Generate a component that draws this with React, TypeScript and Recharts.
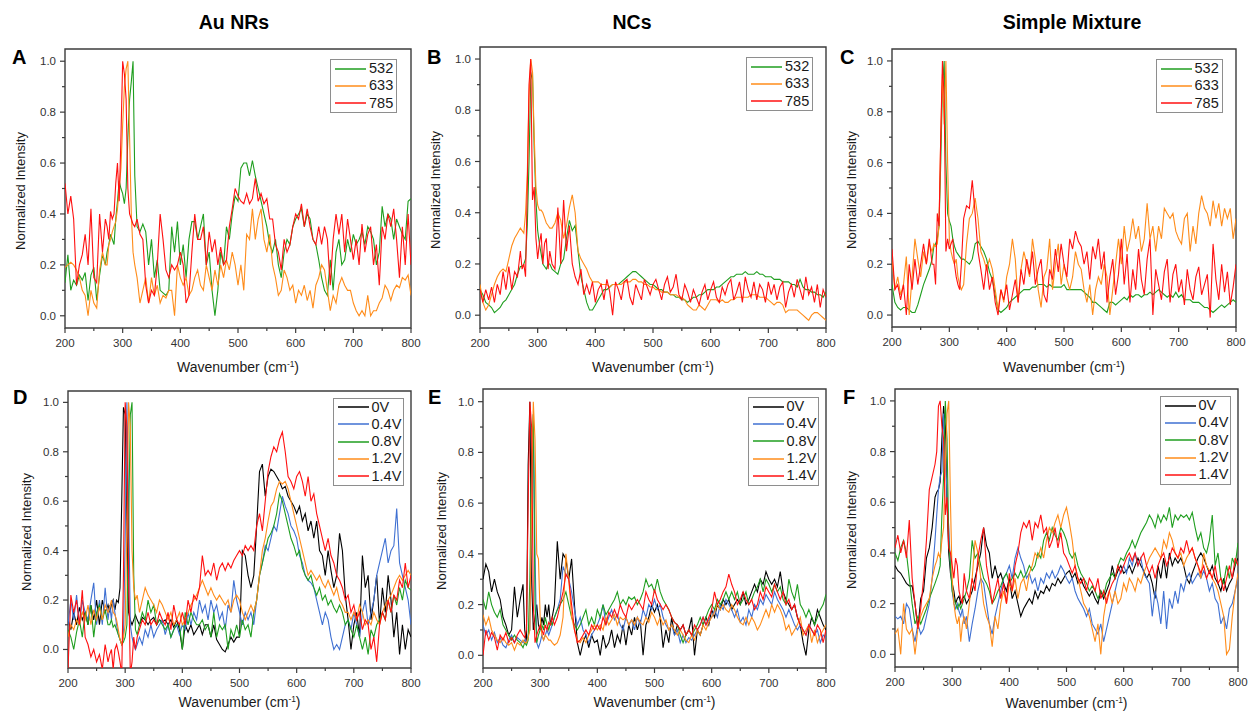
import React from "react";
import { Line, LineChart, ReferenceArea, XAxis, YAxis } from "recharts";

const FONT = "Arial, 'Liberation Sans', Helvetica, sans-serif";

// sampling grid (cm-1): 5 cm-1 steps, 3 cm-1 around the sharp band near 290
const wavenumber = [
  200, 205, 210, 215, 220, 225, 230, 235, 240, 245, 250, 255, 260, 265, 270,
  273, 276, 279, 282, 285, 288, 291, 294, 297, 300, 303, 306, 309, 312, 315, 318, 321,
  325, 330, 335, 340, 345, 350, 355, 360, 365, 370, 375, 380,
  385, 390, 395, 400, 405, 410, 415, 420, 425, 430, 435, 440,
  445, 450, 455, 460, 465, 470, 475, 480, 485, 490, 495, 500,
  505, 510, 515, 520, 525, 530, 535, 540, 545, 550, 555, 560,
  565, 570, 575, 580, 585, 590, 595, 600, 605, 610, 615, 620,
  625, 630, 635, 640, 645, 650, 655, 660, 665, 670, 675, 680,
  685, 690, 695, 700, 705, 710, 715, 720, 725, 730, 735, 740,
  745, 750, 755, 760, 765, 770, 775, 780, 785, 790, 795, 800,
];

const xTicks = [200, 250, 300, 350, 400, 450, 500, 550, 600, 650, 700, 750, 800];
const yTicks = [0, 0.1, 0.2, 0.3, 0.4, 0.5, 0.6, 0.7, 0.8, 0.9, 1.0];
const laserNames = ["532", "633", "785"];
const voltageNames = ["0V", "0.4V", "0.8V", "1.2V", "1.4V"];

// ---- A: Au NRs, three lasers
const a532 = [
  0.13, 0.24, 0.10, 0.14, 0.12, 0.16, 0.14, 0.17, 0.06, 0.16, 0.19, 0.06, 0.16, 0.24, 0.20,
  0.25, 0.28, 0.32, 0.30, 0.28, 0.38, 0.45, 0.53, 0.50, 0.48, 0.44, 0.50, 0.70, 0.85, 0.92, 1.00, 0.55,
  0.35, 0.33, 0.36, 0.33, 0.20, 0.30, 0.15, 0.22, 0.10, 0.09, 0.08, 0.10,
  0.35, 0.25, 0.37, 0.20, 0.28, 0.15, 0.30, 0.37, 0.37, 0.30, 0.35, 0.40,
  0.20, 0.25, 0.10, 0.00, 0.10, 0.25, 0.20, 0.35, 0.30, 0.40, 0.47, 0.45,
  0.58, 0.60, 0.60, 0.55, 0.61, 0.55, 0.50, 0.45, 0.40, 0.35, 0.28, 0.25,
  0.30, 0.20, 0.15, 0.25, 0.30, 0.28, 0.35, 0.38, 0.40, 0.42, 0.35, 0.40,
  0.38, 0.30, 0.28, 0.22, 0.15, 0.10, 0.08, 0.22, 0.10, 0.25, 0.30, 0.20,
  0.22, 0.30, 0.25, 0.32, 0.28, 0.30, 0.33, 0.28, 0.35, 0.33, 0.30, 0.20,
  0.25, 0.43, 0.35, 0.40, 0.38, 0.30, 0.38, 0.35, 0.32, 0.30, 0.45, 0.46,
];
const a633 = [
  0.19, 0.20, 0.21, 0.20, 0.18, 0.15, 0.10, 0.08, 0.00, 0.10, 0.05, 0.03, 0.18, 0.25, 0.20,
  0.20, 0.28, 0.30, 0.33, 0.35, 0.37, 0.42, 0.50, 0.58, 0.75, 0.90, 0.97, 1.00, 0.70, 0.40, 0.25, 0.20,
  0.15, 0.05, 0.10, 0.15, 0.05, 0.15, 0.08, 0.12, 0.05, 0.08, 0.07, 0.10,
  0.10, 0.00, 0.20, 0.15, 0.12, 0.15, 0.08, 0.10, 0.15, 0.18, 0.12, 0.10,
  0.20, 0.15, 0.10, 0.18, 0.12, 0.20, 0.15, 0.22, 0.18, 0.25, 0.20, 0.12,
  0.20, 0.10, 0.32, 0.30, 0.42, 0.30, 0.38, 0.42, 0.30, 0.25, 0.32, 0.20,
  0.15, 0.08, 0.10, 0.18, 0.15, 0.10, 0.12, 0.05, 0.10, 0.08, 0.12, 0.06,
  0.10, 0.03, 0.12, 0.15, 0.20, 0.18, 0.10, 0.02, 0.08, 0.05, 0.12, 0.15,
  0.12, 0.10, 0.10, 0.05, 0.02, 0.00, 0.02, 0.00, 0.08, 0.00, 0.02, 0.02,
  0.05, 0.07, 0.12, 0.10, 0.06, 0.10, 0.12, 0.11, 0.15, 0.14, 0.16, 0.08,
];
const a785 = [
  0.52, 0.40, 0.47, 0.38, 0.12, 0.20, 0.24, 0.32, 0.20, 0.42, 0.15, 0.13, 0.40, 0.25, 0.38,
  0.35, 0.30, 0.41, 0.38, 0.40, 0.52, 0.60, 0.45, 0.70, 1.00, 0.95, 0.85, 0.50, 0.40, 0.38, 0.36, 0.35,
  0.38, 0.32, 0.30, 0.12, 0.05, 0.10, 0.08, 0.20, 0.40, 0.30, 0.18, 0.15,
  0.20, 0.18, 0.20, 0.25, 0.20, 0.05, 0.08, 0.25, 0.40, 0.30, 0.30, 0.35,
  0.20, 0.33, 0.25, 0.30, 0.20, 0.27, 0.20, 0.22, 0.35, 0.42, 0.50, 0.47,
  0.45, 0.44, 0.48, 0.44, 0.46, 0.54, 0.45, 0.48, 0.44, 0.46, 0.38, 0.38,
  0.28, 0.25, 0.18, 0.30, 0.25, 0.28, 0.35, 0.40, 0.38, 0.44, 0.35, 0.42,
  0.35, 0.30, 0.28, 0.35, 0.28, 0.35, 0.30, 0.12, 0.30, 0.40, 0.32, 0.40,
  0.25, 0.38, 0.30, 0.22, 0.30, 0.20, 0.36, 0.25, 0.32, 0.35, 0.20, 0.28,
  0.12, 0.35, 0.30, 0.40, 0.35, 0.42, 0.30, 0.15, 0.35, 0.20, 0.40, 0.20,
];

// ---- B: NCs, three lasers
const b532 = [
  0.10, 0.08, 0.05, 0.04, 0.03, 0.01, 0.02, 0.03, 0.05, 0.06, 0.08, 0.10, 0.12, 0.16, 0.19,
  0.19, 0.20, 0.22, 0.35, 0.60, 0.92, 0.95, 0.65, 0.45, 0.33, 0.28, 0.24, 0.20, 0.19, 0.18, 0.20, 0.20,
  0.18, 0.17, 0.16, 0.20, 0.22, 0.30, 0.37, 0.33, 0.35, 0.25, 0.15, 0.10,
  0.05, 0.02, 0.02, 0.04, 0.06, 0.08, 0.10, 0.10, 0.11, 0.12, 0.12, 0.12,
  0.13, 0.14, 0.15, 0.16, 0.17, 0.17, 0.16, 0.15, 0.14, 0.13, 0.12, 0.12,
  0.11, 0.10, 0.10, 0.09, 0.09, 0.08, 0.08, 0.07, 0.07, 0.06, 0.06, 0.05,
  0.06, 0.07, 0.07, 0.08, 0.08, 0.09, 0.10, 0.10, 0.10, 0.11, 0.11, 0.12,
  0.13, 0.14, 0.15, 0.15, 0.16, 0.16, 0.16, 0.17, 0.16, 0.16, 0.16, 0.17,
  0.16, 0.16, 0.15, 0.15, 0.15, 0.14, 0.14, 0.14, 0.13, 0.13, 0.13, 0.12,
  0.12, 0.11, 0.14, 0.11, 0.10, 0.10, 0.09, 0.09, 0.08, 0.08, 0.07, 0.09,
];
const b633 = [
  0.12, 0.05, 0.02, 0.04, 0.08, 0.12, 0.15, 0.17, 0.18, 0.17, 0.22, 0.27, 0.30, 0.32, 0.34,
  0.33, 0.32, 0.40, 0.55, 0.85, 1.00, 0.95, 0.70, 0.50, 0.43, 0.41, 0.41, 0.40, 0.38, 0.36, 0.35, 0.34,
  0.34, 0.36, 0.40, 0.37, 0.30, 0.35, 0.42, 0.47, 0.40, 0.25, 0.22, 0.20,
  0.18, 0.15, 0.13, 0.13, 0.13, 0.12, 0.12, 0.12, 0.11, 0.12, 0.12, 0.12,
  0.12, 0.13, 0.13, 0.13, 0.14, 0.14, 0.13, 0.13, 0.12, 0.12, 0.11, 0.11,
  0.10, 0.10, 0.09, 0.09, 0.09, 0.08, 0.08, 0.08, 0.07, 0.07, 0.06, 0.04,
  0.03, 0.02, 0.02, 0.04, 0.03, 0.02, 0.04, 0.06, 0.06, 0.06, 0.05, 0.06,
  0.05, 0.05, 0.06, 0.06, 0.07, 0.07, 0.07, 0.07, 0.07, 0.08, 0.08, 0.08,
  0.07, 0.07, 0.07, 0.06, 0.05, 0.04, 0.05, 0.05, 0.04, 0.01, 0.02, 0.02,
  0.02, 0.02, 0.01, 0.00, -0.01, -0.02, 0.00, 0.01, 0.01, 0.00, -0.01, -0.02,
];
const b785 = [
  0.10, 0.05, 0.10, 0.06, 0.11, 0.05, 0.12, 0.08, 0.17, 0.10, 0.19, 0.10, 0.17, 0.15, 0.25,
  0.18, 0.20, 0.15, 0.50, 0.90, 1.00, 0.45, 0.50, 0.30, 0.22, 0.28, 0.32, 0.20, 0.28, 0.30, 0.18, 0.25,
  0.20, 0.18, 0.42, 0.20, 0.45, 0.25, 0.35, 0.20, 0.15, 0.12, 0.18, 0.08,
  0.12, 0.08, 0.13, 0.05, 0.10, 0.12, 0.06, 0.14, 0.09, 0.00, 0.13, 0.10,
  0.06, 0.13, 0.14, 0.07, 0.04, 0.12, 0.09, 0.06, 0.14, 0.11, 0.08, 0.12,
  0.14, 0.10, 0.06, 0.12, 0.15, 0.09, 0.11, 0.16, 0.08, 0.06, 0.12, 0.09,
  0.05, 0.10, 0.07, 0.04, 0.09, 0.12, 0.06, 0.10, 0.13, 0.07, 0.05, 0.11,
  0.08, 0.12, 0.14, 0.06, 0.09, 0.13, 0.05, 0.15, 0.10, 0.07, 0.13, 0.06,
  0.12, 0.10, 0.05, 0.13, 0.08, 0.12, 0.06, 0.11, 0.13, 0.03, 0.09, 0.12,
  0.07, 0.14, 0.10, 0.06, 0.15, 0.08, 0.11, 0.05, 0.12, 0.03, 0.10, 0.07,
];

// ---- C: simple mixture, three lasers
const c532 = [
  0.12, 0.05, 0.03, 0.02, 0.03, 0.03, 0.02, 0.01, 0.01, 0.04, 0.08, 0.12, 0.15, 0.18, 0.22,
  0.27, 0.28, 0.30, 0.35, 0.60, 0.90, 1.00, 0.60, 0.40, 0.37, 0.35, 0.30, 0.27, 0.25, 0.24, 0.23, 0.22,
  0.22, 0.21, 0.20, 0.22, 0.28, 0.29, 0.27, 0.25, 0.22, 0.17, 0.14, 0.08,
  0.02, 0.01, 0.02, 0.03, 0.05, 0.06, 0.07, 0.08, 0.09, 0.10, 0.10, 0.10,
  0.11, 0.11, 0.12, 0.12, 0.12, 0.11, 0.12, 0.11, 0.11, 0.11, 0.11, 0.12,
  0.10, 0.10, 0.10, 0.10, 0.10, 0.10, 0.09, 0.08, 0.07, 0.05, 0.05, 0.04,
  0.03, 0.02, 0.01, 0.05, 0.05, 0.04, 0.05, 0.06, 0.07, 0.06, 0.08, 0.07,
  0.08, 0.08, 0.07, 0.08, 0.08, 0.09, 0.08, 0.09, 0.10, 0.09, 0.08, 0.07,
  0.08, 0.07, 0.09, 0.07, 0.08, 0.06, 0.06, 0.06, 0.05, 0.05, 0.05, 0.04,
  0.03, 0.03, 0.02, 0.01, 0.02, 0.03, 0.04, 0.03, 0.04, 0.05, 0.06, 0.05,
];
const c633 = [
  0.22, 0.10, 0.15, 0.08, 0.12, 0.23, 0.00, 0.15, 0.30, 0.22, 0.15, 0.25, 0.20, 0.28, 0.25,
  0.28, 0.27, 0.28, 0.35, 0.70, 0.95, 0.75, 1.00, 0.60, 0.30, 0.25, 0.22, 0.20, 0.22, 0.15, 0.12, 0.10,
  0.12, 0.28, 0.38, 0.40, 0.46, 0.38, 0.25, 0.22, 0.18, 0.22, 0.18, 0.10,
  0.02, 0.10, 0.05, 0.15, 0.20, 0.30, 0.22, 0.05, 0.18, 0.25, 0.20, 0.15,
  0.30, 0.22, 0.10, 0.03, 0.15, 0.18, 0.30, 0.10, 0.20, 0.28, 0.12, 0.20,
  0.14, 0.10, 0.15, 0.25, 0.20, 0.18, 0.10, 0.05, 0.12, 0.00, 0.10, 0.15,
  0.12, 0.20, 0.15, 0.00, 0.10, 0.20, 0.30, 0.20, 0.35, 0.25, 0.30, 0.38,
  0.30, 0.35, 0.25, 0.30, 0.44, 0.30, 0.35, 0.25, 0.35, 0.30, 0.42, 0.40,
  0.38, 0.40, 0.33, 0.30, 0.28, 0.38, 0.40, 0.25, 0.35, 0.28, 0.40, 0.47,
  0.42, 0.40, 0.35, 0.45, 0.38, 0.44, 0.35, 0.42, 0.38, 0.42, 0.30, 0.38,
];
const c785 = [
  0.26, 0.10, 0.12, 0.06, 0.12, 0.00, 0.20, 0.10, 0.22, 0.12, 0.20, 0.28, 0.20, 0.30, 0.20,
  0.20, 0.12, 0.40, 0.35, 0.70, 1.00, 0.85, 0.25, 0.30, 0.26, 0.28, 0.30, 0.20, 0.15, 0.12, 0.10, 0.20,
  0.38, 0.43, 0.42, 0.53, 0.40, 0.25, 0.18, 0.10, 0.20, 0.10, 0.15, 0.05,
  0.00, 0.10, 0.06, 0.12, 0.02, 0.08, 0.14, 0.05, 0.18, 0.12, 0.22, 0.16,
  0.25, 0.12, 0.18, 0.22, 0.08, 0.05, 0.18, 0.14, 0.26, 0.17, 0.28, 0.20,
  0.15, 0.30, 0.26, 0.33, 0.29, 0.27, 0.20, 0.25, 0.14, 0.27, 0.22, 0.30,
  0.18, 0.25, 0.05, 0.15, 0.22, 0.08, 0.16, 0.30, 0.12, 0.24, 0.05, 0.18,
  0.10, 0.26, 0.14, 0.08, 0.22, 0.30, 0.00, 0.18, 0.12, 0.06, 0.17, 0.22,
  0.05, 0.16, 0.20, 0.09, 0.14, 0.04, 0.18, 0.10, 0.06, 0.15, 0.19, 0.08,
  0.12, 0.16, -0.01, 0.28, 0.14, 0.06, 0.20, 0.09, 0.17, 0.04, 0.11, 0.20,
];

// ---- D: Au NRs under bias
const d0v = [
  0.12, 0.08, 0.15, 0.10, 0.17, 0.12, 0.15, 0.10, 0.18, 0.12, 0.20, 0.10, 0.20, 0.15, 0.18,
  0.15, 0.18, 0.20, 0.16, 0.20, 0.19, 0.25, 0.60, 0.98, 0.95, 0.50, 0.15, 0.12, 0.10, 0.12, 0.14, 0.12,
  0.10, 0.13, 0.12, 0.10, 0.12, 0.13, 0.10, 0.12, 0.11, 0.12, 0.10, 0.12,
  0.09, 0.12, 0.08, 0.00, 0.10, 0.07, 0.10, 0.06, 0.08, 0.10, 0.06, 0.10,
  0.10, 0.05, 0.10, 0.04, 0.02, 0.00, -0.01, 0.02, 0.05, 0.03, 0.05, 0.05,
  0.40, 0.38, 0.30, 0.25, 0.30, 0.50, 0.72, 0.75, 0.62, 0.70, 0.73, 0.72,
  0.70, 0.68, 0.65, 0.66, 0.62, 0.60, 0.58, 0.55, 0.58, 0.52, 0.55, 0.48,
  0.52, 0.45, 0.52, 0.40, 0.38, 0.30, 0.40, 0.32, 0.25, 0.30, 0.47, 0.40,
  0.22, 0.12, 0.00, 0.10, 0.15, 0.05, 0.38, 0.25, 0.30, 0.12, 0.20, 0.30,
  0.10, 0.25, 0.15, 0.30, 0.20, 0.05, 0.15, -0.02, 0.10, 0.00, 0.08, 0.05,
];
const d04v = [
  0.10, 0.20, 0.12, 0.22, 0.10, 0.20, 0.15, 0.12, 0.20, 0.27, 0.10, 0.20, 0.10, 0.25, 0.12,
  0.18, 0.12, 0.20, 0.15, 0.10, 0.06, 0.04, 0.02, 0.05, 0.45, 1.00, 0.60, 0.10, 0.05, 0.02, 0.00, 0.02,
  0.05, 0.02, 0.08, 0.05, 0.10, 0.05, 0.08, 0.10, 0.12, 0.06, 0.10, 0.05,
  0.08, 0.10, 0.06, 0.10, 0.08, 0.15, 0.10, 0.15, 0.12, 0.20, 0.15, 0.18,
  0.12, 0.20, 0.15, 0.18, 0.12, 0.15, 0.08, 0.18, 0.15, 0.28, 0.20, 0.15,
  0.10, 0.15, 0.12, 0.15, 0.10, 0.20, 0.30, 0.35, 0.42, 0.40, 0.45, 0.50,
  0.48, 0.55, 0.62, 0.58, 0.55, 0.50, 0.48, 0.45, 0.38, 0.35, 0.30, 0.28,
  0.27, 0.25, 0.20, 0.15, 0.10, 0.15, 0.12, 0.05, 0.00, 0.02, 0.00, 0.05,
  0.10, 0.12, 0.08, 0.15, 0.10, 0.05, 0.15, 0.20, 0.10, 0.15, 0.20, 0.30,
  0.35, 0.40, 0.45, 0.35, 0.40, 0.42, 0.57, 0.35, 0.30, 0.25, 0.20, 0.10,
];
const d08v = [
  0.08, 0.05, 0.00, 0.07, 0.12, 0.05, 0.15, 0.10, 0.18, 0.05, 0.15, 0.18, 0.12, 0.16, 0.10,
  0.10, 0.12, 0.09, 0.10, 0.08, 0.06, 0.04, 0.02, 0.03, 0.05, 0.10, 0.50, 0.95, 1.00, 0.30, 0.08, 0.06,
  0.10, 0.15, 0.12, 0.20, 0.15, 0.18, 0.10, 0.12, 0.10, 0.08, 0.10, 0.05,
  0.08, 0.10, 0.10, 0.00, 0.15, 0.10, 0.15, 0.12, 0.10, 0.10, 0.12, 0.08,
  0.10, 0.05, 0.15, 0.05, 0.10, 0.08, 0.10, 0.00, 0.08, 0.05, 0.10, 0.05,
  0.12, 0.08, 0.10, 0.05, 0.15, 0.20, 0.30, 0.35, 0.40, 0.45, 0.47, 0.50,
  0.55, 0.63, 0.60, 0.55, 0.50, 0.45, 0.42, 0.38, 0.40, 0.33, 0.30, 0.28,
  0.30, 0.25, 0.22, 0.25, 0.20, 0.22, 0.18, 0.20, 0.17, 0.15, 0.18, 0.15,
  0.10, 0.12, 0.08, 0.05, 0.10, 0.05, 0.00, 0.05, -0.02, 0.08, 0.05, 0.10,
  0.12, 0.15, 0.12, 0.20, 0.15, 0.22, 0.18, 0.25, 0.20, 0.28, 0.25, 0.24,
];
const d12v = [
  0.05, 0.10, 0.08, 0.12, 0.10, 0.15, 0.12, 0.18, 0.10, 0.16, 0.12, 0.17, 0.12, 0.18, 0.15,
  0.17, 0.20, 0.15, 0.14, 0.12, 0.08, 0.04, 0.02, 0.05, 0.10, 0.50, 1.00, 0.90, 0.40, 0.25, 0.20, 0.22,
  0.15, 0.20, 0.25, 0.22, 0.20, 0.18, 0.15, 0.20, 0.18, 0.15, 0.12, 0.15,
  0.10, 0.12, 0.15, 0.10, 0.12, 0.15, 0.18, 0.20, 0.22, 0.25, 0.28, 0.25,
  0.22, 0.25, 0.22, 0.20, 0.22, 0.20, 0.18, 0.20, 0.15, 0.20, 0.22, 0.20,
  0.15, 0.12, 0.15, 0.18, 0.15, 0.20, 0.30, 0.40, 0.45, 0.52, 0.58, 0.60,
  0.65, 0.68, 0.67, 0.68, 0.65, 0.60, 0.55, 0.50, 0.45, 0.40, 0.35, 0.30,
  0.32, 0.30, 0.28, 0.30, 0.27, 0.25, 0.28, 0.25, 0.22, 0.25, 0.20, 0.18,
  0.15, 0.15, 0.12, 0.15, 0.12, 0.18, 0.15, 0.10, 0.12, 0.10, 0.15, 0.12,
  0.10, 0.15, 0.18, 0.20, 0.22, 0.25, 0.28, 0.30, 0.28, 0.30, 0.32, 0.30,
];
const d14v = [
  -0.08, 0.22, 0.15, 0.20, 0.10, 0.24, 0.05, 0.02, -0.03, 0.00, -0.05, -0.02, -0.08, 0.02, -0.05,
  -0.02, 0.00, -0.08, 0.00, 0.02, -0.01, -0.05, -0.10, 0.30, 1.00, 0.90, 0.30, -0.10, -0.05, 0.05, 0.00, 0.05,
  0.08, 0.12, 0.10, 0.15, 0.10, 0.12, 0.10, 0.15, 0.12, 0.10, 0.15, 0.08,
  0.18, 0.12, 0.10, 0.15, 0.10, 0.20, 0.15, 0.22, 0.20, 0.25, 0.38, 0.30,
  0.32, 0.30, 0.35, 0.28, 0.33, 0.35, 0.32, 0.35, 0.33, 0.36, 0.38, 0.40,
  0.38, 0.42, 0.40, 0.42, 0.40, 0.50, 0.55, 0.48, 0.60, 0.72, 0.78, 0.82,
  0.80, 0.85, 0.88, 0.80, 0.70, 0.68, 0.65, 0.70, 0.72, 0.68, 0.62, 0.70,
  0.60, 0.63, 0.55, 0.50, 0.45, 0.40, 0.45, 0.38, 0.35, 0.30, 0.28, 0.25,
  0.20, 0.22, 0.15, 0.18, 0.12, 0.15, 0.08, 0.12, 0.10, 0.00, 0.05, -0.05,
  0.10, 0.15, 0.12, 0.20, 0.15, 0.22, 0.20, 0.28, 0.25, 0.35, 0.25, 0.30,
];

// ---- E: NCs under bias
const e0v = [
  0.30, 0.36, 0.33, 0.25, 0.30, 0.25, 0.22, 0.15, 0.12, 0.08, 0.10, 0.27, 0.15, 0.22, 0.28,
  0.10, 0.05, 0.75, 1.00, 0.30, 0.10, 0.15, 0.20, 0.12, 0.10, 0.15, 0.12, 0.20, 0.15, 0.20, 0.12, 0.15,
  0.20, 0.45, 0.30, 0.40, 0.38, 0.30, 0.38, 0.20, 0.05, 0.00, 0.05, 0.08,
  0.03, 0.08, 0.05, 0.06, 0.00, 0.08, 0.03, 0.05, 0.10, 0.03, 0.08, 0.05,
  0.12, 0.04, 0.12, 0.08, 0.15, 0.10, 0.14, 0.00, 0.12, 0.15, 0.20, 0.17,
  0.20, 0.15, 0.03, 0.10, 0.05, 0.15, 0.08, 0.12, 0.10, 0.12, 0.08, 0.10,
  0.15, 0.00, 0.10, 0.08, 0.12, 0.15, 0.12, 0.18, 0.15, 0.20, 0.18, 0.22,
  0.20, 0.22, 0.18, 0.20, 0.22, 0.20, 0.25, 0.20, 0.22, 0.25, 0.28, 0.25,
  0.30, 0.28, 0.33, 0.30, 0.28, 0.30, 0.27, 0.33, 0.25, 0.22, 0.20, 0.18,
  0.20, 0.15, 0.12, 0.05, 0.00, 0.10, 0.15, 0.12, 0.18, 0.15, 0.12, 0.10,
];
const e04v = [
  0.12, 0.08, 0.10, 0.06, 0.09, 0.05, 0.07, 0.04, 0.03, 0.06, 0.08, 0.05, 0.07, 0.06, 0.05,
  0.06, 0.05, 0.08, 0.10, 0.60, 0.95, 0.40, 0.05, 0.03, 0.05, 0.08, 0.06, 0.08, 0.10, 0.08, 0.10, 0.12,
  0.15, 0.18, 0.22, 0.35, 0.32, 0.30, 0.25, 0.18, 0.12, 0.15, 0.10, 0.08,
  0.05, 0.08, 0.10, 0.12, 0.15, 0.20, 0.12, 0.15, 0.18, 0.14, 0.16, 0.12,
  0.10, 0.15, 0.12, 0.14, 0.10, 0.15, 0.12, 0.18, 0.15, 0.20, 0.18, 0.22,
  0.18, 0.20, 0.15, 0.12, 0.10, 0.12, 0.08, 0.10, 0.05, 0.08, 0.05, 0.07,
  0.06, 0.08, 0.10, 0.12, 0.15, 0.12, 0.14, 0.15, 0.18, 0.15, 0.20, 0.18,
  0.22, 0.20, 0.18, 0.15, 0.18, 0.13, 0.15, 0.12, 0.18, 0.15, 0.20, 0.18,
  0.22, 0.20, 0.24, 0.22, 0.20, 0.25, 0.22, 0.20, 0.18, 0.15, 0.18, 0.15,
  0.12, 0.10, 0.12, 0.10, 0.08, 0.12, 0.10, 0.08, 0.10, 0.05, 0.08, 0.07,
];
const e08v = [
  0.22, 0.18, 0.25, 0.20, 0.17, 0.15, 0.18, 0.12, 0.10, 0.08, 0.06, 0.08, 0.06, 0.05, 0.03,
  0.05, 0.04, 0.06, 0.30, 0.80, 0.95, 0.20, 0.05, 0.08, 0.10, 0.12, 0.10, 0.15, 0.12, 0.10, 0.13, 0.12,
  0.15, 0.18, 0.20, 0.22, 0.25, 0.20, 0.15, 0.12, 0.10, 0.12, 0.15, 0.18,
  0.12, 0.15, 0.12, 0.18, 0.15, 0.20, 0.16, 0.18, 0.20, 0.22, 0.25, 0.20,
  0.22, 0.20, 0.23, 0.22, 0.23, 0.20, 0.22, 0.25, 0.30, 0.27, 0.28, 0.25,
  0.30, 0.25, 0.22, 0.20, 0.18, 0.15, 0.13, 0.12, 0.08, 0.05, 0.08, 0.10,
  0.08, 0.10, 0.12, 0.15, 0.12, 0.15, 0.18, 0.20, 0.18, 0.22, 0.20, 0.22,
  0.25, 0.22, 0.25, 0.22, 0.25, 0.20, 0.22, 0.25, 0.20, 0.22, 0.25, 0.27,
  0.30, 0.25, 0.30, 0.28, 0.25, 0.28, 0.25, 0.27, 0.22, 0.20, 0.30, 0.25,
  0.22, 0.28, 0.20, 0.18, 0.15, 0.18, 0.15, 0.12, 0.15, 0.18, 0.20, 0.24,
];
const e12v = [
  0.16, 0.12, 0.15, 0.10, 0.08, 0.06, 0.05, 0.07, 0.05, 0.04, 0.05, 0.02, 0.05, 0.04, 0.06,
  0.05, 0.05, 0.07, 0.10, 0.60, 1.00, 0.85, 0.40, 0.38, 0.15, 0.08, 0.06, 0.08, 0.07, 0.06, 0.06, 0.05,
  0.04, 0.05, 0.08, 0.15, 0.40, 0.30, 0.15, 0.10, 0.06, 0.05, 0.07, 0.05,
  0.08, 0.10, 0.12, 0.10, 0.12, 0.10, 0.15, 0.12, 0.14, 0.16, 0.12, 0.15,
  0.14, 0.15, 0.12, 0.14, 0.12, 0.15, 0.13, 0.12, 0.15, 0.13, 0.17, 0.15,
  0.12, 0.15, 0.12, 0.14, 0.10, 0.12, 0.10, 0.08, 0.10, 0.08, 0.06, 0.05,
  0.08, 0.06, 0.10, 0.08, 0.12, 0.10, 0.13, 0.15, 0.17, 0.20, 0.18, 0.20,
  0.18, 0.17, 0.20, 0.18, 0.15, 0.13, 0.12, 0.15, 0.12, 0.15, 0.13, 0.10,
  0.12, 0.15, 0.18, 0.15, 0.20, 0.17, 0.20, 0.18, 0.15, 0.10, 0.12, 0.08,
  0.10, 0.12, 0.15, 0.08, 0.10, 0.12, 0.05, 0.10, 0.05, 0.08, 0.10, 0.12,
];
const e14v = [
  0.00, 0.10, 0.06, 0.09, 0.07, 0.02, 0.08, 0.06, 0.09, 0.05, 0.07, 0.05, 0.08, 0.10, 0.08,
  0.07, 0.10, 0.60, 1.00, 0.90, 0.20, 0.05, 0.08, 0.10, 0.12, 0.10, 0.08, 0.12, 0.10, 0.13, 0.12, 0.15,
  0.12, 0.15, 0.20, 0.25, 0.32, 0.30, 0.20, 0.10, 0.05, 0.06, 0.08, 0.10,
  0.08, 0.12, 0.10, 0.12, 0.10, 0.15, 0.12, 0.17, 0.15, 0.18, 0.15, 0.20,
  0.17, 0.15, 0.20, 0.18, 0.20, 0.22, 0.20, 0.18, 0.25, 0.22, 0.20, 0.26,
  0.22, 0.20, 0.18, 0.20, 0.18, 0.15, 0.13, 0.12, 0.10, 0.12, 0.08, 0.10,
  0.08, 0.12, 0.10, 0.12, 0.15, 0.12, 0.15, 0.18, 0.25, 0.20, 0.22, 0.25,
  0.27, 0.32, 0.28, 0.25, 0.20, 0.22, 0.25, 0.22, 0.20, 0.22, 0.18, 0.20,
  0.25, 0.22, 0.27, 0.25, 0.23, 0.28, 0.25, 0.22, 0.25, 0.20, 0.22, 0.18,
  0.20, 0.15, 0.12, 0.10, 0.08, 0.12, 0.10, 0.08, 0.12, 0.10, 0.05, 0.10,
];

// ---- F: simple mixture under bias
const f0v = [
  0.35, 0.33, 0.32, 0.30, 0.28, 0.27, 0.27, 0.20, 0.10, 0.22, 0.25, 0.38, 0.42, 0.50, 0.62,
  0.64, 0.65, 0.68, 0.85, 0.98, 0.90, 0.60, 0.40, 0.32, 0.28, 0.25, 0.20, 0.22, 0.23, 0.20, 0.22, 0.23,
  0.20, 0.22, 0.25, 0.30, 0.35, 0.40, 0.50, 0.43, 0.40, 0.30, 0.35, 0.30,
  0.32, 0.28, 0.25, 0.30, 0.22, 0.25, 0.20, 0.15, 0.18, 0.20, 0.22, 0.20,
  0.25, 0.22, 0.25, 0.24, 0.27, 0.25, 0.28, 0.27, 0.30, 0.28, 0.30, 0.32,
  0.33, 0.30, 0.32, 0.28, 0.30, 0.27, 0.25, 0.23, 0.25, 0.22, 0.20, 0.25,
  0.22, 0.25, 0.28, 0.35, 0.30, 0.33, 0.35, 0.32, 0.33, 0.35, 0.32, 0.35,
  0.38, 0.35, 0.33, 0.30, 0.32, 0.28, 0.22, 0.35, 0.30, 0.38, 0.30, 0.40,
  0.35, 0.38, 0.36, 0.38, 0.35, 0.30, 0.28, 0.32, 0.35, 0.38, 0.40, 0.38,
  0.35, 0.32, 0.35, 0.30, 0.28, 0.25, 0.30, 0.25, 0.28, 0.30, 0.35, 0.38,
];
const f04v = [
  0.15, 0.14, 0.15, 0.12, 0.20, 0.18, 0.10, 0.05, 0.12, 0.08, 0.10, 0.15, 0.20, 0.30, 0.45,
  0.55, 0.65, 0.70, 0.72, 0.95, 0.80, 0.63, 0.50, 0.35, 0.25, 0.20, 0.18, 0.20, 0.17, 0.15, 0.18, 0.12,
  0.15, 0.05, 0.12, 0.18, 0.25, 0.30, 0.28, 0.20, 0.12, 0.08, 0.15, 0.20,
  0.25, 0.30, 0.32, 0.35, 0.30, 0.38, 0.42, 0.38, 0.35, 0.30, 0.32, 0.28,
  0.30, 0.25, 0.30, 0.28, 0.32, 0.30, 0.33, 0.30, 0.32, 0.35, 0.33, 0.30,
  0.28, 0.30, 0.25, 0.22, 0.20, 0.18, 0.15, 0.18, 0.12, 0.10, 0.08, 0.12,
  0.05, 0.10, 0.15, 0.20, 0.25, 0.30, 0.33, 0.35, 0.32, 0.38, 0.35, 0.40,
  0.35, 0.38, 0.32, 0.30, 0.28, 0.15, 0.25, 0.20, 0.12, 0.25, 0.10, 0.22,
  0.18, 0.25, 0.20, 0.28, 0.25, 0.30, 0.32, 0.28, 0.30, 0.32, 0.30, 0.33,
  0.30, 0.25, 0.28, 0.22, 0.20, 0.12, 0.15, 0.10, 0.18, 0.20, 0.25, 0.30,
];
const f08v = [
  0.40, 0.37, 0.42, 0.45, 0.40, 0.30, 0.20, 0.12, 0.15, 0.12, 0.15, 0.18, 0.22, 0.25, 0.28,
  0.30, 0.32, 0.35, 0.55, 0.70, 1.00, 0.85, 0.45, 0.35, 0.25, 0.22, 0.20, 0.18, 0.20, 0.18, 0.20, 0.22,
  0.25, 0.30, 0.45, 0.38, 0.40, 0.35, 0.30, 0.28, 0.25, 0.20, 0.22, 0.25,
  0.27, 0.30, 0.32, 0.28, 0.30, 0.32, 0.30, 0.33, 0.30, 0.32, 0.35, 0.33,
  0.35, 0.40, 0.38, 0.45, 0.48, 0.45, 0.50, 0.47, 0.45, 0.50, 0.48, 0.45,
  0.40, 0.38, 0.40, 0.35, 0.32, 0.30, 0.28, 0.25, 0.27, 0.25, 0.22, 0.25,
  0.23, 0.28, 0.30, 0.32, 0.30, 0.35, 0.38, 0.37, 0.40, 0.42, 0.45, 0.42,
  0.45, 0.48, 0.50, 0.52, 0.55, 0.53, 0.50, 0.55, 0.52, 0.55, 0.53, 0.58,
  0.50, 0.55, 0.53, 0.55, 0.54, 0.55, 0.53, 0.56, 0.50, 0.45, 0.48, 0.42,
  0.40, 0.45, 0.55, 0.35, 0.40, 0.30, 0.28, 0.35, 0.30, 0.38, 0.35, 0.44,
];
const f12v = [
  0.08, 0.10, 0.00, 0.20, 0.10, 0.08, 0.10, 0.00, 0.10, 0.15, 0.18, 0.20, 0.22, 0.30, 0.35,
  0.37, 0.40, 0.38, 0.45, 0.50, 0.75, 0.95, 1.00, 0.60, 0.30, 0.20, 0.15, 0.12, 0.15, 0.05, 0.12, 0.15,
  0.10, 0.20, 0.30, 0.45, 0.40, 0.30, 0.20, 0.15, 0.12, 0.03, 0.15, 0.10,
  0.20, 0.25, 0.20, 0.28, 0.25, 0.30, 0.22, 0.28, 0.30, 0.25, 0.32, 0.35,
  0.40, 0.38, 0.42, 0.38, 0.45, 0.50, 0.48, 0.52, 0.55, 0.50, 0.55, 0.58,
  0.52, 0.45, 0.35, 0.30, 0.25, 0.20, 0.18, 0.15, 0.10, 0.05, 0.12, 0.00,
  0.15, 0.22, 0.25, 0.20, 0.25, 0.20, 0.22, 0.28, 0.25, 0.30, 0.28, 0.25,
  0.30, 0.28, 0.32, 0.35, 0.38, 0.40, 0.42, 0.40, 0.38, 0.45, 0.42, 0.48,
  0.45, 0.40, 0.38, 0.40, 0.35, 0.38, 0.40, 0.42, 0.38, 0.35, 0.30, 0.40,
  0.35, 0.33, 0.30, 0.28, 0.25, 0.20, 0.15, 0.00, 0.02, 0.15, 0.25, 0.32,
];
const f14v = [
  0.42, 0.47, 0.40, 0.45, 0.38, 0.53, 0.30, 0.20, 0.10, 0.18, 0.30, 0.45, 0.65, 0.70, 0.75,
  0.80, 0.98, 1.00, 0.90, 0.85, 0.55, 0.62, 0.42, 0.40, 0.35, 0.30, 0.38, 0.35, 0.25, 0.22, 0.20, 0.32,
  0.25, 0.22, 0.30, 0.25, 0.38, 0.45, 0.50, 0.35, 0.28, 0.20, 0.25, 0.30,
  0.22, 0.28, 0.20, 0.32, 0.25, 0.35, 0.40, 0.48, 0.52, 0.50, 0.53, 0.45,
  0.52, 0.50, 0.55, 0.48, 0.50, 0.42, 0.45, 0.50, 0.42, 0.48, 0.40, 0.38,
  0.35, 0.32, 0.35, 0.30, 0.28, 0.30, 0.25, 0.30, 0.28, 0.25, 0.30, 0.22,
  0.25, 0.20, 0.25, 0.28, 0.30, 0.35, 0.32, 0.35, 0.38, 0.40, 0.37, 0.40,
  0.35, 0.38, 0.40, 0.35, 0.32, 0.35, 0.30, 0.35, 0.38, 0.40, 0.35, 0.38,
  0.42, 0.40, 0.38, 0.42, 0.40, 0.45, 0.40, 0.42, 0.38, 0.35, 0.32, 0.35,
  0.30, 0.33, 0.30, 0.35, 0.28, 0.30, 0.25, 0.30, 0.35, 0.30, 0.38, 0.35,
];

const GREEN = "#1f9e1f";
const ORANGE = "#ff8c1a";
const RED = "#ff1010";
const BLUE = "#3f70d2";
const BLACK = "#000000";
const FRAME = "#3c3c3c";
const TEXT = "#1a1a1a";
const TICK_TEXT = "#333333";

const laserColors = [GREEN, ORANGE, RED];
const voltageColors = [BLACK, BLUE, GREEN, ORANGE, RED];

interface Series {
  name: string;
  color: string;
  values: number[];
}

interface Panel {
  letter: string;
  letterPos: [number, number];
  plot: { x: number; y: number; w: number; h: number };
  yDomain: [number, number];
  series: Series[];
  legend: { right: number; top: number; width: number };
  yTitleX: number;
  xTitleBaseline: number;
}

function makeSeries(names: string[], colors: string[], values: number[][]): Series[] {
  return names.map((name, i) => {
    if (values[i].length !== wavenumber.length) {
      throw new Error(`series ${name}: ${values[i].length} values, expected ${wavenumber.length}`);
    }
    return { name, color: colors[i], values: values[i] };
  });
}

const panels: Panel[] = [
  {
    letter: "A", letterPos: [12, 46.5],
    plot: { x: 65, y: 49, w: 346, h: 279 }, yDomain: [-0.048, 1.048],
    series: makeSeries(laserNames, laserColors, [a532, a633, a785]),
    legend: { right: 14, top: 10, width: 67 }, yTitleX: 21, xTitleBaseline: 371.5,
  },
  {
    letter: "B", letterPos: [427, 46.5],
    plot: { x: 480, y: 47, w: 346, h: 281 }, yDomain: [-0.05, 1.047],
    series: makeSeries(laserNames, laserColors, [b532, b633, b785]),
    legend: { right: 13, top: 10, width: 67 }, yTitleX: 436, xTitleBaseline: 371.5,
  },
  {
    letter: "C", letterPos: [840, 46.5],
    plot: { x: 892, y: 49, w: 344, h: 278 }, yDomain: [-0.047, 1.047],
    series: makeSeries(laserNames, laserColors, [c532, c633, c785]),
    legend: { right: 13.5, top: 10, width: 67 }, yTitleX: 852, xTitleBaseline: 371.5,
  },
  {
    letter: "D", letterPos: [13, 386.5],
    plot: { x: 68, y: 391, w: 343, h: 277 }, yDomain: [-0.075, 1.046],
    series: makeSeries(voltageNames, voltageColors, [d0v, d04v, d08v, d12v, d14v]),
    legend: { right: 7, top: 6.5, width: 71.5 }, yTitleX: 27, xTitleBaseline: 707,
  },
  {
    letter: "E", letterPos: [428, 386.5],
    plot: { x: 483, y: 389, w: 343, h: 279 }, yDomain: [-0.05, 1.05],
    series: makeSeries(voltageNames, voltageColors, [e0v, e04v, e08v, e12v, e14v]),
    legend: { right: 7, top: 8, width: 71.5 }, yTitleX: 442, xTitleBaseline: 707,
  },
  {
    letter: "F", letterPos: [843, 386.5],
    plot: { x: 895, y: 389, w: 343, h: 278 }, yDomain: [-0.05, 1.047],
    series: makeSeries(voltageNames, voltageColors, [f0v, f04v, f08v, f12v, f14v]),
    legend: { right: 7, top: 7, width: 71.5 }, yTitleX: 852, xTitleBaseline: 708,
  },
];

const columnTitles = [
  { text: "Au NRs", cx: 234 },
  { text: "NCs", cx: 632 },
  { text: "Simple Mixture", cx: 1072 },
];

const PAD_L = 50;
const PAD_T = 10;
const PAD_R = 16;
const PAD_B = 30;

function XTick(props: any) {
  const { x, y, payload } = props;
  const major = payload.value % 100 === 0;
  return (
    <g>
      <line x1={x} x2={x} y1={y} y2={y + (major ? 5 : 3)} stroke={FRAME} strokeWidth={1.2} />
      {major && (
        <text x={x} y={y + 15} textAnchor="middle" dominantBaseline="central" fontSize={11.5} fill={TICK_TEXT} fontFamily={FONT}>
          {payload.value}
        </text>
      )}
    </g>
  );
}

function YTick(props: any) {
  const { x, y, payload } = props;
  const major = Math.round(payload.value * 10) % 2 === 0;
  return (
    <g>
      <line x1={x} x2={x - (major ? 5 : 3)} y1={y} y2={y} stroke={FRAME} strokeWidth={1.2} />
      {major && (
        <text x={x - 9} y={y} textAnchor="end" dominantBaseline="central" fontSize={11.5} fill={TICK_TEXT} fontFamily={FONT}>
          {payload.value.toFixed(1)}
        </text>
      )}
    </g>
  );
}

function LegendBox({ panel }: { panel: Panel }) {
  const { plot, legend, series } = panel;
  return (
    <div
      style={{
        position: "absolute",
        left: plot.x + plot.w - legend.right - legend.width,
        top: plot.y + legend.top,
        width: legend.width,
        border: "1.5px solid #8e8e8e",
        boxSizing: "border-box",
        background: "#fff",
        paddingBottom: 0.5,
      }}
    >
      {series.map((s) => (
        <div key={s.name} style={{ display: "flex", alignItems: "center", height: 17.3 }}>
          <svg width={35} height={6} style={{ display: "block", flex: "none" }}>
            <line x1={4} x2={35} y1={3} y2={3} stroke={s.color} strokeWidth={1.5} />
          </svg>
          <span style={{ marginLeft: 3, fontSize: 14.5, lineHeight: "17.3px", color: TEXT }}>{s.name}</span>
        </div>
      ))}
    </div>
  );
}

function SpectrumPanel({ panel }: { panel: Panel }) {
  const { plot, yDomain, series } = panel;
  const data = wavenumber.map((wn, i) => {
    const row: Record<string, number> = { x: wn };
    series.forEach((s, k) => {
      row[`s${k}`] = s.values[i];
    });
    return row;
  });

  return (
    <>
      <div style={{ position: "absolute", left: plot.x - PAD_L, top: plot.y - PAD_T }}>
        <LineChart
          width={plot.w + PAD_L + PAD_R}
          height={plot.h + PAD_T + PAD_B}
          data={data}
          margin={{ top: PAD_T, right: PAD_R, bottom: 0, left: 0 }}
        >
          <XAxis
            type="number"
            dataKey="x"
            domain={[200, 800]}
            ticks={xTicks}
            interval={0}
            allowDataOverflow
            height={PAD_B}
            axisLine={false}
            tickLine={false}
            tickSize={0}
            tickMargin={0}
            tick={(p: any) => <XTick {...p} />}
          />
          <YAxis
            type="number"
            domain={yDomain}
            ticks={yTicks}
            interval={0}
            allowDataOverflow
            width={PAD_L}
            axisLine={false}
            tickLine={false}
            tickSize={0}
            tickMargin={0}
            tick={(p: any) => <YTick {...p} />}
          />
          <ReferenceArea
            x1={200}
            x2={800}
            y1={yDomain[0]}
            y2={yDomain[1]}
            fill="none"
            stroke={FRAME}
            strokeWidth={1.4}
            ifOverflow="visible"
          />
          {series.map((s, k) => (
            <Line
              key={s.name}
              type="linear"
              dataKey={`s${k}`}
              stroke={s.color}
              strokeWidth={1.1}
              dot={false}
              activeDot={false}
              isAnimationActive={false}
            />
          ))}
        </LineChart>
      </div>

      <div
        style={{
          position: "absolute",
          left: panel.letterPos[0],
          top: panel.letterPos[1],
          fontSize: 20,
          lineHeight: "20px",
          fontWeight: "bold",
          color: "#000",
        }}
      >
        {panel.letter}
      </div>

      <div
        style={{
          position: "absolute",
          left: panel.yTitleX - 100,
          top: plot.y + plot.h / 2 + 2 - 8,
          width: 200,
          height: 16,
          lineHeight: "16px",
          textAlign: "center",
          fontSize: 13,
          color: TEXT,
          transform: "rotate(-90deg)",
          whiteSpace: "nowrap",
        }}
      >
        Normalized Intensity
      </div>

      <div
        style={{
          position: "absolute",
          left: plot.x + plot.w / 2 - 100,
          top: panel.xTitleBaseline - 11.9,
          width: 200,
          lineHeight: "14px",
          textAlign: "center",
          fontSize: 14,
          color: TEXT,
          whiteSpace: "nowrap",
        }}
      >
        Wavenumber (cm
        <sup style={{ fontSize: "0.6em", lineHeight: 0, verticalAlign: "0.6em" }}>-1</sup>)
      </div>

      <LegendBox panel={panel} />
    </>
  );
}

export default function App() {
  return (
    <div
      style={{
        position: "absolute",
        left: 0,
        top: 0,
        width: 1249,
        height: 713,
        background: "#fff",
        fontFamily: FONT,
        overflow: "hidden",
      }}
    >
      {columnTitles.map((t) => (
        <div
          key={t.text}
          style={{
            position: "absolute",
            left: t.cx - 150,
            top: 13.2,
            width: 300,
            textAlign: "center",
            fontSize: 19.5,
            lineHeight: "19.5px",
            fontWeight: "bold",
            color: "#000",
          }}
        >
          {t.text}
        </div>
      ))}
      {panels.map((p) => (
        <SpectrumPanel key={p.letter} panel={p} />
      ))}
    </div>
  );
}
